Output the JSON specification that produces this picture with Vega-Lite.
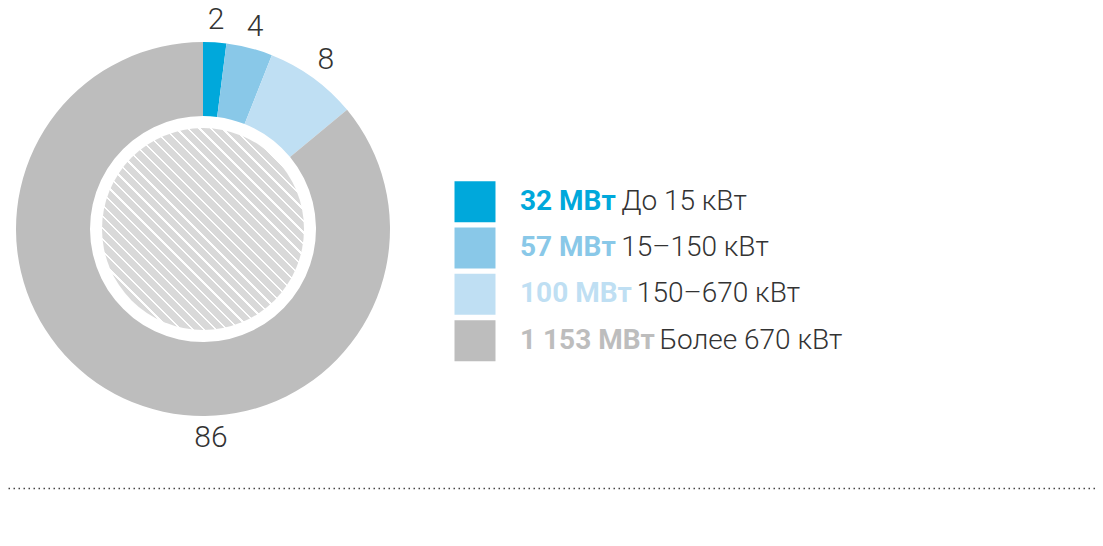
{
  "$schema": "https://vega.github.io/schema/vega-lite/v6.json",
  "padding": {"left": 8, "top": 0, "right": 0, "bottom": 0},
  "background": "white",
  "config": {"view": {"stroke": null}, "font": "Roboto"},
  "datasets": {
    "power": [
      {"ord": 1, "group": "До 15 кВт", "mw": 32, "pct": 2},
      {"ord": 2, "group": "15–150 кВт", "mw": 57, "pct": 4},
      {"ord": 3, "group": "150–670 кВт", "mw": 100, "pct": 8},
      {"ord": 4, "group": "Более 670 кВт", "mw": 1153, "pct": 86}
    ]
  },
  "spacing": 30,
  "vconcat": [
    {
      "spacing": 0,
      "bounds": "flush",
      "hconcat": [
        {
          "width": 390,
          "height": 458,
          "data": {"name": "power"},
          "transform": [
            {"window": [{"op": "sum", "field": "pct", "as": "cum"}], "sort": [{"field": "ord"}], "frame": [null, 0]},
            {"calculate": "datum.pct > 50 ? 49.4 : datum.cum - datum.pct / 2", "as": "label_at"}
          ],
          "layer": [
            {
              "mark": {"type": "arc", "outerRadius": 187, "innerRadius": 113},
              "encoding": {
                "theta": {"field": "pct", "type": "quantitative", "stack": true, "scale": {"domain": [0, 100]}},
                "order": {"field": "ord"},
                "color": {
                  "field": "group",
                  "type": "nominal",
                  "scale": {
                    "domain": ["До 15 кВт", "15–150 кВт", "150–670 кВт", "Более 670 кВт"],
                    "range": ["#00a8db", "#89c8e8", "#bfdff3", "#bdbdbd"]
                  },
                  "legend": null
                }
              }
            },
            {
              "transform": [{"aggregate": [{"op": "sum", "field": "pct", "as": "total"}]}],
              "mark": {
                "type": "arc",
                "theta": 0,
                "theta2": 6.2832,
                "outerRadius": 101,
                "innerRadius": 0,
                "fill": {
                  "gradient": "linear",
                  "x1": 0, "y1": 1, "x2": 1, "y2": 0,
                  "stops": [
                    {"offset": 0, "color": "#d9d9d9"}, {"offset": 0.02286, "color": "#d9d9d9"}, {"offset": 0.02286, "color": "#ffffff"}, {"offset": 0.02857, "color": "#ffffff"},
                    {"offset": 0.02857, "color": "#d9d9d9"}, {"offset": 0.05143, "color": "#d9d9d9"}, {"offset": 0.05143, "color": "#ffffff"}, {"offset": 0.05714, "color": "#ffffff"},
                    {"offset": 0.05714, "color": "#d9d9d9"}, {"offset": 0.08, "color": "#d9d9d9"}, {"offset": 0.08, "color": "#ffffff"}, {"offset": 0.08571, "color": "#ffffff"},
                    {"offset": 0.08571, "color": "#d9d9d9"}, {"offset": 0.10857, "color": "#d9d9d9"}, {"offset": 0.10857, "color": "#ffffff"}, {"offset": 0.11429, "color": "#ffffff"},
                    {"offset": 0.11429, "color": "#d9d9d9"}, {"offset": 0.13714, "color": "#d9d9d9"}, {"offset": 0.13714, "color": "#ffffff"}, {"offset": 0.14286, "color": "#ffffff"},
                    {"offset": 0.14286, "color": "#d9d9d9"}, {"offset": 0.16571, "color": "#d9d9d9"}, {"offset": 0.16571, "color": "#ffffff"}, {"offset": 0.17143, "color": "#ffffff"},
                    {"offset": 0.17143, "color": "#d9d9d9"}, {"offset": 0.19429, "color": "#d9d9d9"}, {"offset": 0.19429, "color": "#ffffff"}, {"offset": 0.2, "color": "#ffffff"},
                    {"offset": 0.2, "color": "#d9d9d9"}, {"offset": 0.22286, "color": "#d9d9d9"}, {"offset": 0.22286, "color": "#ffffff"}, {"offset": 0.22857, "color": "#ffffff"},
                    {"offset": 0.22857, "color": "#d9d9d9"}, {"offset": 0.25143, "color": "#d9d9d9"}, {"offset": 0.25143, "color": "#ffffff"}, {"offset": 0.25714, "color": "#ffffff"},
                    {"offset": 0.25714, "color": "#d9d9d9"}, {"offset": 0.28, "color": "#d9d9d9"}, {"offset": 0.28, "color": "#ffffff"}, {"offset": 0.28571, "color": "#ffffff"},
                    {"offset": 0.28571, "color": "#d9d9d9"}, {"offset": 0.30857, "color": "#d9d9d9"}, {"offset": 0.30857, "color": "#ffffff"}, {"offset": 0.31429, "color": "#ffffff"},
                    {"offset": 0.31429, "color": "#d9d9d9"}, {"offset": 0.33714, "color": "#d9d9d9"}, {"offset": 0.33714, "color": "#ffffff"}, {"offset": 0.34286, "color": "#ffffff"},
                    {"offset": 0.34286, "color": "#d9d9d9"}, {"offset": 0.36571, "color": "#d9d9d9"}, {"offset": 0.36571, "color": "#ffffff"}, {"offset": 0.37143, "color": "#ffffff"},
                    {"offset": 0.37143, "color": "#d9d9d9"}, {"offset": 0.39429, "color": "#d9d9d9"}, {"offset": 0.39429, "color": "#ffffff"}, {"offset": 0.4, "color": "#ffffff"},
                    {"offset": 0.4, "color": "#d9d9d9"}, {"offset": 0.42286, "color": "#d9d9d9"}, {"offset": 0.42286, "color": "#ffffff"}, {"offset": 0.42857, "color": "#ffffff"},
                    {"offset": 0.42857, "color": "#d9d9d9"}, {"offset": 0.45143, "color": "#d9d9d9"}, {"offset": 0.45143, "color": "#ffffff"}, {"offset": 0.45714, "color": "#ffffff"},
                    {"offset": 0.45714, "color": "#d9d9d9"}, {"offset": 0.48, "color": "#d9d9d9"}, {"offset": 0.48, "color": "#ffffff"}, {"offset": 0.48571, "color": "#ffffff"},
                    {"offset": 0.48571, "color": "#d9d9d9"}, {"offset": 0.50857, "color": "#d9d9d9"}, {"offset": 0.50857, "color": "#ffffff"}, {"offset": 0.51429, "color": "#ffffff"},
                    {"offset": 0.51429, "color": "#d9d9d9"}, {"offset": 0.53714, "color": "#d9d9d9"}, {"offset": 0.53714, "color": "#ffffff"}, {"offset": 0.54286, "color": "#ffffff"},
                    {"offset": 0.54286, "color": "#d9d9d9"}, {"offset": 0.56571, "color": "#d9d9d9"}, {"offset": 0.56571, "color": "#ffffff"}, {"offset": 0.57143, "color": "#ffffff"},
                    {"offset": 0.57143, "color": "#d9d9d9"}, {"offset": 0.59429, "color": "#d9d9d9"}, {"offset": 0.59429, "color": "#ffffff"}, {"offset": 0.6, "color": "#ffffff"},
                    {"offset": 0.6, "color": "#d9d9d9"}, {"offset": 0.62286, "color": "#d9d9d9"}, {"offset": 0.62286, "color": "#ffffff"}, {"offset": 0.62857, "color": "#ffffff"},
                    {"offset": 0.62857, "color": "#d9d9d9"}, {"offset": 0.65143, "color": "#d9d9d9"}, {"offset": 0.65143, "color": "#ffffff"}, {"offset": 0.65714, "color": "#ffffff"},
                    {"offset": 0.65714, "color": "#d9d9d9"}, {"offset": 0.68, "color": "#d9d9d9"}, {"offset": 0.68, "color": "#ffffff"}, {"offset": 0.68571, "color": "#ffffff"},
                    {"offset": 0.68571, "color": "#d9d9d9"}, {"offset": 0.70857, "color": "#d9d9d9"}, {"offset": 0.70857, "color": "#ffffff"}, {"offset": 0.71429, "color": "#ffffff"},
                    {"offset": 0.71429, "color": "#d9d9d9"}, {"offset": 0.73714, "color": "#d9d9d9"}, {"offset": 0.73714, "color": "#ffffff"}, {"offset": 0.74286, "color": "#ffffff"},
                    {"offset": 0.74286, "color": "#d9d9d9"}, {"offset": 0.76571, "color": "#d9d9d9"}, {"offset": 0.76571, "color": "#ffffff"}, {"offset": 0.77143, "color": "#ffffff"},
                    {"offset": 0.77143, "color": "#d9d9d9"}, {"offset": 0.79429, "color": "#d9d9d9"}, {"offset": 0.79429, "color": "#ffffff"}, {"offset": 0.8, "color": "#ffffff"},
                    {"offset": 0.8, "color": "#d9d9d9"}, {"offset": 0.82286, "color": "#d9d9d9"}, {"offset": 0.82286, "color": "#ffffff"}, {"offset": 0.82857, "color": "#ffffff"},
                    {"offset": 0.82857, "color": "#d9d9d9"}, {"offset": 0.85143, "color": "#d9d9d9"}, {"offset": 0.85143, "color": "#ffffff"}, {"offset": 0.85714, "color": "#ffffff"},
                    {"offset": 0.85714, "color": "#d9d9d9"}, {"offset": 0.88, "color": "#d9d9d9"}, {"offset": 0.88, "color": "#ffffff"}, {"offset": 0.88571, "color": "#ffffff"},
                    {"offset": 0.88571, "color": "#d9d9d9"}, {"offset": 0.90857, "color": "#d9d9d9"}, {"offset": 0.90857, "color": "#ffffff"}, {"offset": 0.91429, "color": "#ffffff"},
                    {"offset": 0.91429, "color": "#d9d9d9"}, {"offset": 0.93714, "color": "#d9d9d9"}, {"offset": 0.93714, "color": "#ffffff"}, {"offset": 0.94286, "color": "#ffffff"},
                    {"offset": 0.94286, "color": "#d9d9d9"}, {"offset": 0.96571, "color": "#d9d9d9"}, {"offset": 0.96571, "color": "#ffffff"}, {"offset": 0.97143, "color": "#ffffff"},
                    {"offset": 0.97143, "color": "#d9d9d9"}, {"offset": 0.99429, "color": "#d9d9d9"}, {"offset": 0.99429, "color": "#ffffff"}, {"offset": 1, "color": "#ffffff"}
                  ]
                }
              },
              "encoding": {}
            },
            {
              "mark": {"type": "text", "radius": 209, "fontSize": 30, "fontWeight": 300, "fill": "#333333", "align": "center", "baseline": "middle"},
              "encoding": {
                "theta": {"field": "label_at", "type": "quantitative", "stack": null, "scale": {"domain": [0, 100]}},
                "text": {"field": "pct", "type": "quantitative"}
              }
            }
          ]
        },
        {
          "width": 700,
          "height": 458,
          "data": {"name": "power"},
          "transform": [
            {"calculate": "replace(format(datum.mw, ','), ',', ' ') + ' МВт'", "as": "mw_label"},
            {"calculate": "122 + 28 * (0.5615 * length(toString(datum.mw)) + 0.244 * (datum.mw >= 1000 ? 2 : 1) + 1.965 + 0.28)", "as": "desc_x"}
          ],
          "encoding": {
            "y": {
              "field": "group",
              "type": "nominal",
              "sort": ["До 15 кВт", "15–150 кВт", "150–670 кВт", "Более 670 кВт"],
              "scale": {"type": "point", "range": [201.7, 340.7], "padding": 0},
              "axis": null
            }
          },
          "layer": [
            {
              "mark": {"type": "square", "size": 1680, "opacity": 1, "x": 77},
              "encoding": {
                "color": {
                  "field": "group",
                  "type": "nominal",
                  "scale": {
                    "domain": ["До 15 кВт", "15–150 кВт", "150–670 кВт", "Более 670 кВт"],
                    "range": ["#00a8db", "#89c8e8", "#bfdff3", "#bdbdbd"]
                  },
                  "legend": null
                }
              }
            },
            {
              "mark": {"type": "text", "x": 122, "align": "left", "baseline": "middle", "fontSize": 28, "fontWeight": "bold"},
              "encoding": {
                "text": {"field": "mw_label", "type": "nominal"},
                "color": {
                  "field": "group",
                  "type": "nominal",
                  "scale": {
                    "domain": ["До 15 кВт", "15–150 кВт", "150–670 кВт", "Более 670 кВт"],
                    "range": ["#00a8db", "#89c8e8", "#bfdff3", "#bdbdbd"]
                  },
                  "legend": null
                }
              }
            },
            {
              "mark": {"type": "text", "align": "left", "baseline": "middle", "fontSize": 28, "fontWeight": 300, "fill": "#333333"},
              "encoding": {
                "x": {"field": "desc_x", "type": "quantitative", "scale": null},
                "text": {"field": "group", "type": "nominal"}
              }
            }
          ]
        }
      ]
    },
    {
      "width": 1090,
      "height": 10,
      "data": {"name": "power"},
      "mark": {"type": "point", "opacity": 0},
      "encoding": {
        "x": {
          "field": "pct",
          "type": "quantitative",
          "axis": {
            "orient": "top",
            "domainDash": [1.5, 3.5],
            "domainColor": "#444444",
            "domainWidth": 1.5,
            "ticks": false,
            "labels": false,
            "title": null,
            "grid": false
          }
        }
      }
    }
  ]
}
